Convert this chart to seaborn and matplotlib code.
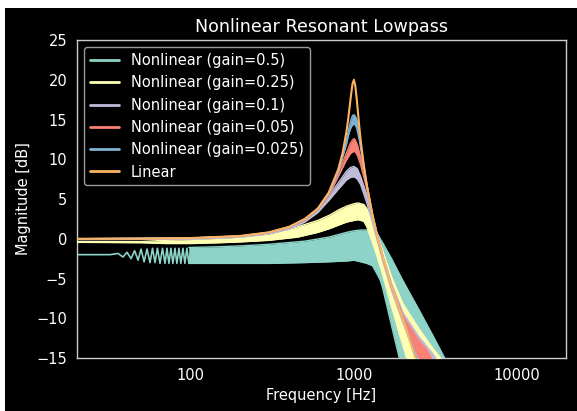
import numpy as np
import pandas as pd
import matplotlib
matplotlib.use("Agg")
import matplotlib.pyplot as plt
from matplotlib.patches import Rectangle
import seaborn as sns

# ---------------- data ----------------
lin_freq = [20, 50, 100, 200, 300, 400, 500, 600, 700, 800, 850, 900, 920, 940, 960, 980,
            1000, 1020, 1040, 1060, 1080, 1100, 1150, 1200, 1300, 1400, 1500, 1700, 2000,
            2300, 2500]
lin_db = [0.0, 0.02, 0.09, 0.35, 0.8, 1.5, 2.5, 3.8, 5.8, 8.7, 10.7, 13.5, 14.9, 16.5, 18.1,
          19.5, 20.0, 19.2, 17.6, 15.8, 14.0, 12.4, 9.2, 6.7, 3.0, 0.1, -2.2, -5.9, -10.2,
          -14.0, -16.5]

# gain 0.5: oscillating low-frequency trace, then a dense band
g05_osc_freq = [20, 32, 35.7, 38.3, 40.5, 42.9, 45.1, 47.4, 49.4, 51.6, 53.8, 56.1, 58.1,
                60.2, 62.3, 64.6, 66.9, 69.3, 71.3, 73.3, 75.4, 77.5, 79.8, 82.0, 84.4,
                86.7, 89.3, 91.8, 94.4, 97.1, 100]
g05_osc_db = [-2.0, -2.0, -1.85, -2.3, -1.7, -2.5, -1.5, -2.7, -1.3, -2.9, -1.3, -3.0, -1.2,
              -3.0, -1.2, -3.1, -1.2, -3.1, -1.2, -3.1, -1.2, -3.1, -1.2, -3.1, -1.2,
              -3.1, -1.2, -3.1, -1.2, -3.1, -1.2]
g05_freq = [97, 150, 200, 300, 500, 700, 900, 1000, 1100, 1200,
            1300, 1400, 1450, 1500, 1700, 2000, 2500, 3000, 3600, 4000]
g05_up = [-1.1, -1.0, -0.9, -0.7, -0.3, 0.2, 0.8, 1.0, 1.1, 1.1,
          1.0, 0.6, 0.0, -0.5, -2.5, -5.3, -8.9, -11.9, -15.0, -17.0]
g05_lo = [-3.1, -3.1, -3.1, -3.1, -3.0, -2.9, -2.8, -2.7, -2.9, -3.1,
          -3.4, -4.6, -5.2, -6.2, -10.9, -17.0, -25.0, -25.0, -25.0, -25.0]

g025_freq = [20, 50, 70, 100, 150, 200, 300, 450, 600, 714, 800, 900, 1000, 1060, 1150,
             1200, 1300, 1400, 1500, 1700, 2000, 2500, 3000, 3400, 3800]
g025_up = [-0.35, -0.35, -0.2, -0.1, 0.05, 0.2, 0.6, 1.5, 2.3, 3.0, 3.6, 4.1, 4.4, 4.5, 4.3,
           3.8, 2.2, 0.3, -1.5, -4.8, -8.2, -11.3, -13.6, -15.0, -17.0]
g025_lo = [-0.45, -0.5, -0.6, -0.6, -0.5, -0.4, -0.2, 0.2, 0.8, 1.3, 1.7, 2.1, 2.3, 2.4, 2.2,
           1.5, -0.5, -2.5, -4.5, -8.5, -13.5, -20.0, -25.0, -25.0, -25.0]

g01_freq = [20, 100, 200, 300, 400, 500, 600, 700, 800, 900, 950, 1000, 1050, 1100, 1200,
            1300, 1400, 1500, 1700, 2000, 2500, 3000, 3300]
g01_up = [0.0, 0.08, 0.33, 0.78, 1.45, 2.4, 3.7, 5.4, 7.0, 8.5, 8.95, 9.1, 8.8, 7.8, 5.5,
          3.0, 0.3, -2.0, -5.6, -9.3, -12.3, -14.3, -15.5]
g01_lo = [-0.1, -0.05, 0.2, 0.6, 1.2, 2.1, 3.3, 4.8, 6.2, 7.4, 7.7, 7.8, 7.5, 6.8, 4.5,
          2.0, -0.5, -2.8, -6.5, -10.6, -15.5, -20.0, -22.0]

g005_freq = [20, 100, 200, 300, 400, 500, 600, 700, 800, 900, 950, 980, 1000, 1020, 1050,
             1100, 1200, 1300, 1400, 1500, 1700, 2000, 2500, 2800, 3100]
g005_up = [0.0, 0.09, 0.34, 0.8, 1.48, 2.45, 3.78, 5.6, 8.2, 10.8, 12.0, 12.4, 12.6, 12.4,
           11.8, 10.2, 6.9, 3.1, 0.2, -2.1, -5.8, -9.7, -12.8, -14.0, -15.6]
g005_lo = [-0.05, 0.05, 0.3, 0.75, 1.4, 2.35, 3.65, 5.4, 7.8, 9.9, 10.7, 10.9, 11.0, 10.9,
           10.5, 9.3, 6.3, 2.7, -0.1, -2.4, -6.1, -10.3, -15.0, -17.0, -20.0]

g0025_freq = [20, 100, 200, 300, 400, 500, 600, 700, 800, 900, 930, 960, 980, 1000, 1020,
              1040, 1080, 1100, 1200, 1300, 1400, 1500, 1700, 2000, 2300, 2500]
g0025_up = [0.0, 0.09, 0.35, 0.8, 1.5, 2.48, 3.8, 5.7, 8.5, 12.4, 13.9, 15.0, 15.5, 15.6,
            15.4, 15.0, 13.2, 11.9, 6.9, 3.0, 0.1, -2.2, -5.9, -10.0, -13.6, -16.0]
g0025_lo = [-0.02, 0.07, 0.32, 0.77, 1.45, 2.42, 3.72, 5.6, 8.3, 11.9, 13.2, 14.0, 14.3,
            14.4, 14.3, 13.9, 12.4, 11.3, 6.6, 2.8, -0.1, -2.4, -6.1, -10.3, -14.0, -16.5]

labels = ["Nonlinear (gain=0.5)", "Nonlinear (gain=0.25)", "Nonlinear (gain=0.1)",
          "Nonlinear (gain=0.05)", "Nonlinear (gain=0.025)", "Linear"]
x_ticks = [100, 1000, 10000]
x_tick_labels = ["100", "1000", "10000"]
y_ticks = [-15, -10, -5, 0, 5, 10, 15, 20, 25]

# ---------------- style ----------------
sns.set_theme(style="dark")
plt.style.use("dark_background")
plt.rcParams["font.family"] = ["DejaVu Sans"]
palette = ["#8dd3c7", "#feffb3", "#bfbbd9", "#fa8174", "#81b1d2", "#fdb462"]
FS = 10.5

W, H = 577, 411
fig = plt.figure(figsize=(W / 100, H / 100), dpi=100, facecolor="white")
bg = Rectangle((5 / W, 0), (W - 5) / W, (H - 8) / H, transform=fig.transFigure,
               facecolor="black", edgecolor="none", zorder=-10)
fig.add_artist(bg)
ax = fig.add_axes([77 / W, 1 - 358 / H, (566 - 77) / W, (358 - 40) / H])
ax.set_zorder(5)
ax.set_facecolor("black")
ax.set_xscale("log")

bands = [(g05_freq, g05_up, g05_lo), (g025_freq, g025_up, g025_lo),
         (g01_freq, g01_up, g01_lo), (g005_freq, g005_up, g005_lo),
         (g0025_freq, g0025_up, g0025_lo)]

for i, (f, up, lo) in enumerate(bands):
    c = palette[i]
    ax.fill_between(f, lo, up, color=c, lw=0, zorder=2 + i)
    sns.lineplot(x=f, y=up, color=c, lw=1.0, ax=ax, zorder=2 + i,
                 label=labels[i] if i > 0 else None, sort=False, estimator=None)
    sns.lineplot(x=f, y=lo, color=c, lw=1.0, ax=ax, zorder=2 + i, sort=False,
                 estimator=None)
    if i == 0:
        sns.lineplot(x=g05_osc_freq, y=g05_osc_db, color=c, lw=1.2, ax=ax, zorder=2,
                     label=labels[0], sort=False, estimator=None)

sns.lineplot(x=lin_freq, y=lin_db, color=palette[5], lw=1.5, ax=ax, zorder=10,
             label=labels[5], sort=False, estimator=None)

ax.set_xlim(20, 20000)
ax.set_ylim(-15, 25)
ax.set_xticks(x_ticks)
ax.set_xticklabels(x_tick_labels)
ax.set_yticks(y_ticks)
ax.set_yticklabels([("\u2212" + str(abs(v))) if v < 0 else str(v) for v in y_ticks])
ax.tick_params(axis="both", colors="white", labelsize=FS, direction="out", length=3.5)
ax.tick_params(axis="x", which="minor", colors="white", length=2)
for s in ax.spines.values():
    s.set_color("#cccccc")
    s.set_linewidth(1.0)
ax.grid(False)
ax.set_xlabel("Frequency [Hz]", fontsize=FS, color="white")
ax.set_ylabel("Magnitude [dB]", fontsize=FS, color="white")
ax.set_title("Nonlinear Resonant Lowpass", fontsize=12.6, color="white")

handles, labs = ax.get_legend_handles_labels()
order = [labs.index(l) for l in labels]
leg = ax.legend([handles[k] for k in order], [labs[k] for k in order], loc="upper left",
                fontsize=FS, frameon=True, facecolor="black", edgecolor="#999999",
                framealpha=1.0)
for h in leg.get_lines():
    h.set_linewidth(2.0)

fig.savefig("out.png", dpi=100, facecolor=fig.get_facecolor())
